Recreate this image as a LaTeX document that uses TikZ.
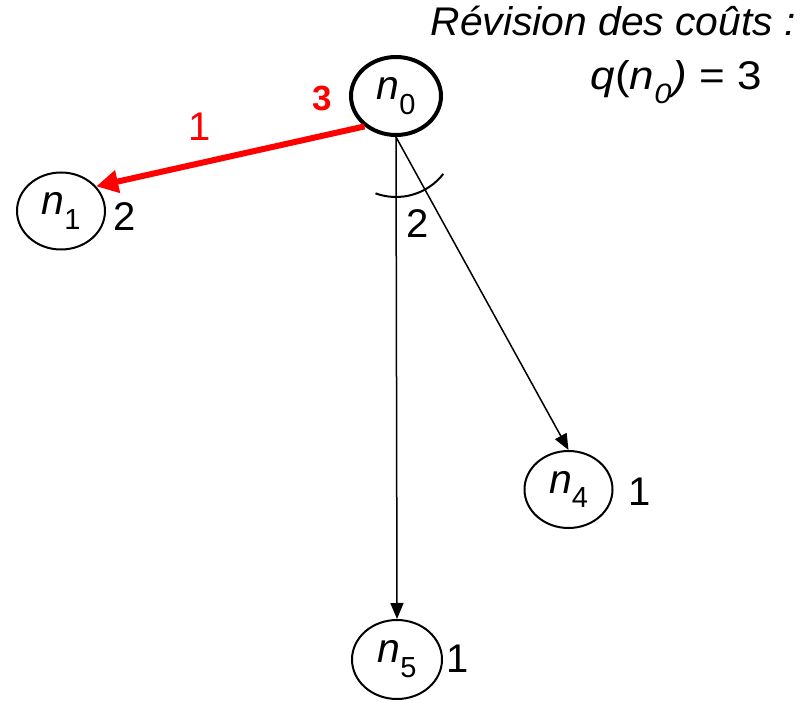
\documentclass[tikz,border=0pt]{standalone}
\usepackage{fontspec}
\setmainfont{Liberation Sans}
\usetikzlibrary{shapes.geometric,arrows.meta}
\newcommand{\fs}[1]{\fontsize{#1}{#1}\selectfont}
\newcommand{\nsub}[1]{\textit{n}\raisebox{-0.36em}{\fs{29}#1}}
\begin{document}
\begin{tikzpicture}[x=1pt,y=1pt,
  nd/.style={ellipse, draw, line width=2pt, minimum width=88pt, minimum height=77pt, inner sep=0pt, font=\fs{41}},
  lbl/.style={font=\fs{40}, inner sep=0pt},
  arr/.style={line width=1.5pt, -{Triangle[length=16pt,width=13pt]}},
  redarr/.style={red, line width=6pt, -{Triangle[length=22pt,width=22pt]}},
]
\useasboundingbox (0,0) rectangle (807,-703);
\node[nd, line width=4pt, minimum width=90pt, minimum height=78pt] (n0) at (396,-96) {\nsub{0}};
\node[nd] (n1) at (61,-211) {\nsub{1}};
\node[nd] (n4) at (568.5,-489.5) {\nsub{4}};
\node[nd, minimum width=90pt, minimum height=79pt] (n5) at (397,-659.5) {\nsub{5}};
\draw[arr] (n0.south) -- (n5.north);
\draw[arr] (n0.south) -- (n4.north);
\draw[redarr] (n0.224) -- (n1.35);
\draw[line width=2pt] ([shift={(-110:60)}]n0.south) arc[start angle=-110, end angle=-38, radius=60];
\node[lbl, text=red, font=\fs{35}\bfseries] (c0) at (322,-98) {3};
\node[lbl, text=red] (e1) at (200,-127) {1};
\node[lbl] (c1) at (125,-217) {2};
\node[lbl] (e2) at (418,-224) {2};
\node[lbl] (c4) at (640,-492) {1};
\node[lbl] (c5) at (458,-659) {1};
\node[anchor=base east, font=\fs{40}\itshape, inner sep=0pt] (t1) at (796,-36) {\scalebox{1.02}[1]{Révision des coûts :}};
\node[anchor=base east, font=\fs{40}, inner sep=0pt] (t2) at (762,-90) {\scalebox{1.1}[1]{\textit{q}(\textit{n}\raisebox{-0.35em}{\fs{28}\itshape 0}\kern1pt\textit{)} = 3}};
\end{tikzpicture}
\end{document}
